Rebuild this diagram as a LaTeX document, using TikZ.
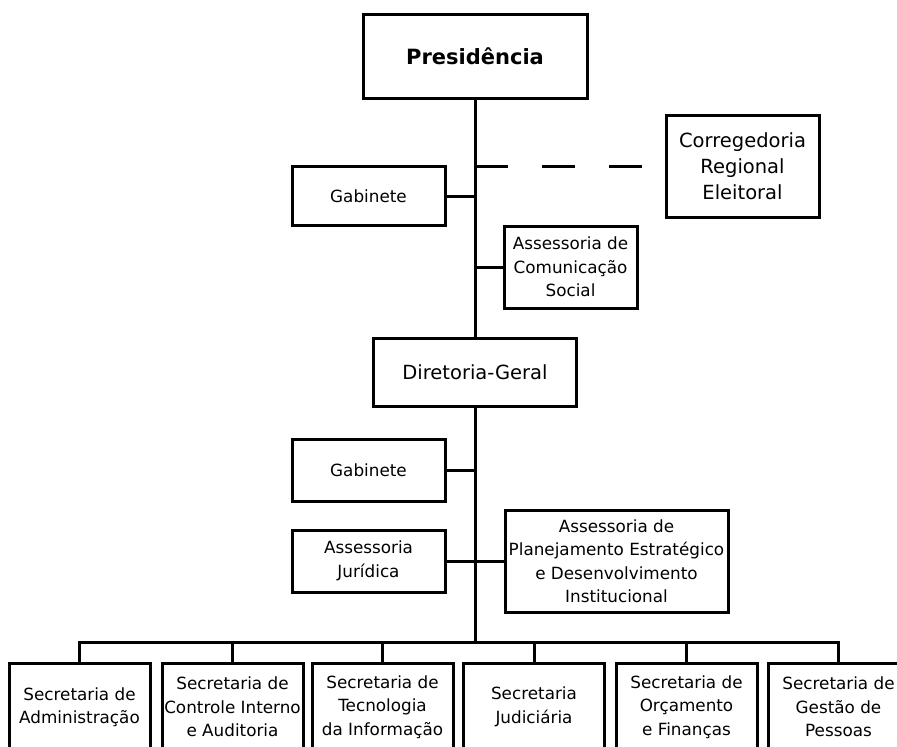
\documentclass[tikz,border=0pt]{standalone}
\usepackage{fontspec}
\setmainfont{DejaVu Sans}
\begin{document}
\begin{tikzpicture}[x=1pt,y=-1pt,
  box/.style={draw, line width=3pt, inner sep=0pt, align=center,
    font=\fontsize{16.8}{23.5}\selectfont},
  bigbox/.style={box, font=\fontsize{19.5}{26}\selectfont},
  secbox/.style={box, minimum width=141pt, minimum height=88pt},
  conn/.style={line width=3pt}]
\useasboundingbox (0,0) rectangle (897,747);
\clip (0,0) rectangle (897,747);
% nodes
\node[box, minimum width=224pt, minimum height=84pt,
  font=\fontsize{21}{25}\selectfont\bfseries] (pres) at (475,56) {Presidência};
\node[bigbox, minimum width=153pt, minimum height=102pt] (correg) at (742.5,166)
  {Corregedoria\\Regional\\Eleitoral};
\node[box, minimum width=153pt, minimum height=59pt] (gab1) at (368.5,196) {Gabinete};
\node[box, minimum width=133pt, minimum height=82pt] (ascom) at (570.5,267)
  {Assessoria de\\Comunicação\\Social};
\node[bigbox, minimum width=203pt, minimum height=68pt] (dg) at (475,372) {Diretoria-Geral};
\node[box, minimum width=153pt, minimum height=62pt] (gab2) at (368.5,470) {Gabinete};
\node[box, minimum width=153pt, minimum height=62pt] (asjur) at (368.5,561)
  {Assessoria\\Jurídica};
\node[box, minimum width=223pt, minimum height=102pt] (aspe) at (616.5,561)
  {Assessoria de\\Planejamento Estratégico\\e Desenvolvimento\\Institucional};
\node[secbox] (s1) at (79.5,707) {Secretaria de\\Administração};
\node[secbox] (s2) at (232.5,707) {Secretaria de\\Controle Interno\\e Auditoria};
\node[secbox] (s3) at (382.5,707) {Secretaria de\\Tecnologia\\da Informação};
\node[secbox] (s4) at (534,707) {Secretaria\\Judiciária};
\node[secbox] (s5) at (686.5,707) {Secretaria de\\Orçamento\\e Finanças};
\node[secbox] (s6) at (838.5,707) {Secretaria de\\Gestão de\\Pessoas};
\coordinate (bus) at (475,642);
% connectors
\draw[conn] (pres.south) -- (dg.north);
\draw[conn] (gab1.east) -- (gab1.east -| pres.south);
\draw[conn] (ascom.west) -- (ascom.west -| pres.south);
\draw[conn, dash pattern=on 33pt off 34pt] (correg.west -| pres.south) -- (correg.west);
\draw[conn] (gab2.east) -- (gab2.east -| dg.south);
\draw[conn] (asjur.east) -- (aspe.west);
\draw[conn] (dg.south) -- (bus);
\draw[conn] (s1.north) -- (s1.north |- bus) -- (s6.north |- bus) -- (s6.north);
\foreach \s in {s2,s3,s4,s5}{
  \draw[conn] (\s.north) -- (\s.north |- bus);
}
\end{tikzpicture}
\end{document}
